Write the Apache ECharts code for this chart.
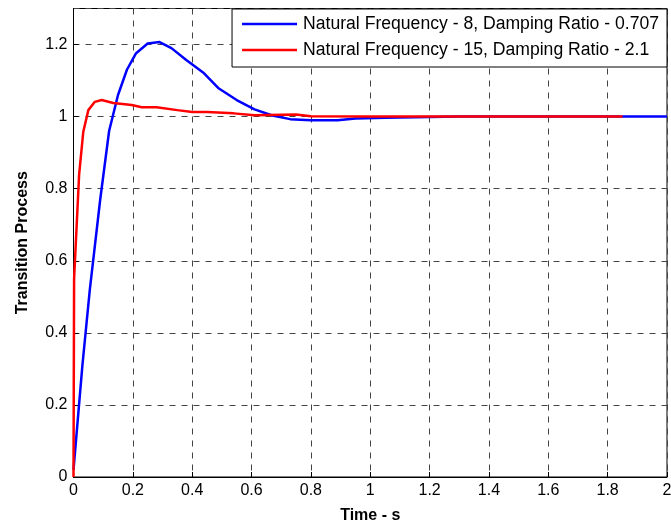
<!DOCTYPE html>
<html>
<head>
<meta charset="utf-8">
<script src="https://cdn.jsdelivr.net/npm/echarts@6/dist/echarts.min.js"></script>
<style>html,body{margin:0;padding:0;background:#fff}#c{width:671px;height:525px}</style>
</head>
<body>
<div id="c"></div>
<script>
var seriesNames = ['Natural Frequency - 8, Damping Ratio - 0.707', 'Natural Frequency - 15, Damping Ratio - 2.1'];
var blueData = [[0,0.02],[0.03,0.31],[0.055,0.52],[0.09,0.77],[0.12,0.96],[0.15,1.06],[0.18,1.13],[0.21,1.175],[0.25,1.203],[0.29,1.207],[0.33,1.19],[0.38,1.157],[0.44,1.12],[0.49,1.078],[0.55,1.046],[0.61,1.02],[0.67,1.003],[0.73,0.993],[0.8,0.99],[0.89,0.99],[0.95,0.995],[1.05,0.997],[1.2,0.999],[1.3,1.0],[1.6,1.0],[2.0,1.0]];
var redData = [[0,0],[0.002,0.55],[0.019,0.84],[0.033,0.958],[0.05,1.018],[0.072,1.041],[0.095,1.046],[0.134,1.038],[0.196,1.032],[0.23,1.026],[0.28,1.026],[0.35,1.018],[0.4,1.013],[0.45,1.013],[0.54,1.009],[0.61,1.004],[0.75,1.006],[0.8,1.001],[1.0,1.0],[1.85,1.0]];
var xMin = 0, xMax = 2, xStep = 0.2;
var yMin = 0, yMax = 1.3, yStep = 0.2;

var chart = echarts.init(document.getElementById('c'), null, {renderer: 'canvas'});
var font = 'Liberation Sans, Arial, sans-serif';
var gridLine = {show: true, lineStyle: {color: '#444', width: 1, type: [6, 6]}};
chart.setOption({
  animation: false,
  backgroundColor: '#fff',
  grid: {left: 73.5, right: 4, top: 8.5, bottom: 48, show: true, borderColor: '#000', borderWidth: 1, backgroundColor: 'transparent', containLabel: false, outerBoundsMode: 'none'},
  legend: {
    orient: 'vertical', right: 4, top: 9,
    backgroundColor: '#fff', borderColor: '#000', borderWidth: 1,
    padding: [5.5, 8, 7.5, 10], itemGap: 7, itemWidth: 55, itemHeight: 2.5,
    icon: 'rect',
    textStyle: {fontFamily: font, fontSize: 17.6, color: '#000', lineHeight: 19, padding: [0, 0, 0, 1]},
    data: seriesNames
  },
  xAxis: {
    type: 'value', min: xMin, max: xMax, interval: xStep,
    name: 'Time - s', nameLocation: 'middle', nameGap: 31,
    nameTextStyle: {fontFamily: font, fontSize: 16, fontWeight: 'bold', color: '#000'},
    axisLine: {show: true, lineStyle: {color: '#000', width: 1}},
    axisTick: {show: true, inside: true, length: 5, lineStyle: {color: '#000'}},
    axisLabel: {fontFamily: font, fontSize: 16, color: '#000', margin: 6},
    splitLine: gridLine
  },
  yAxis: {
    type: 'value', min: yMin, max: yMax, interval: yStep,
    name: 'Transition Process', nameLocation: 'middle', nameGap: 43,
    nameTextStyle: {fontFamily: font, fontSize: 16, fontWeight: 'bold', color: '#000'},
    axisLine: {show: true, lineStyle: {color: '#000', width: 1}},
    axisTick: {show: true, inside: true, length: 5, lineStyle: {color: '#000'}},
    axisLabel: {fontFamily: font, fontSize: 16, color: '#000', margin: 6, showMaxLabel: false},
    splitLine: gridLine
  },
  series: [
    {name: seriesNames[0], type: 'line', data: blueData, symbol: 'none', smooth: false, lineStyle: {color: '#0000ff', width: 2.5}, itemStyle: {color: '#0000ff'}},
    {name: seriesNames[1], type: 'line', data: redData, symbol: 'none', smooth: false, lineStyle: {color: '#ff0000', width: 2.5}, itemStyle: {color: '#ff0000'}}
  ]
});
</script>
</body>
</html>
